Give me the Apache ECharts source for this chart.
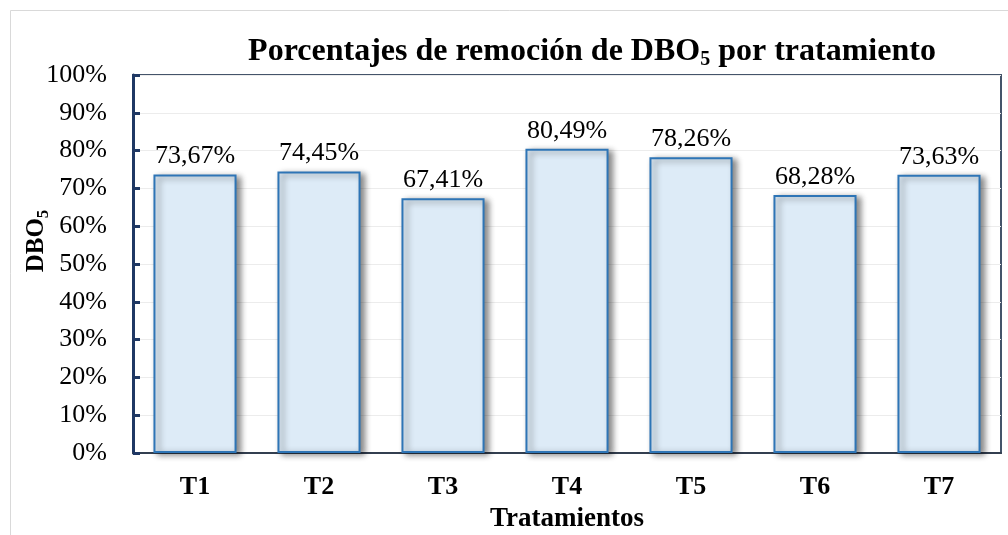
<!DOCTYPE html>
<html>
<head>
<meta charset="utf-8">
<script src="https://cdn.jsdelivr.net/npm/echarts@6/dist/echarts.min.js"></script>
<style>
  html, body { margin: 0; padding: 0; background: #fff; }
  #chart { width: 1008px; height: 535px; }
</style>
</head>
<body>
<div id="chart"></div>
<script>
const categories = ['T1', 'T2', 'T3', 'T4', 'T5', 'T6', 'T7']
const removal = [73.67, 74.45, 67.41, 80.49, 78.26, 68.28, 73.63]
const yTicks = [0, 10, 20, 30, 40, 50, 60, 70, 80, 90, 100]

const serif = '"Liberation Serif", "DejaVu Serif", serif'

const chart = echarts.init(document.getElementById('chart'))

const option = {
  animation: false,
  backgroundColor: '#fff',
  graphic: [
    {
      type: 'rect',
      shape: { x: 10.5, y: 10.5, width: 1010, height: 540 },
      style: { fill: 'none', stroke: '#d9d9d9', lineWidth: 1 },
      silent: true
    }
  ],
  title: {
    text: '{a|Porcentajes de remoción de DBO}{s|5}{a| por tratamiento}',
    left: 587,
    top: 29,
    textAlign: 'center',
    textStyle: {
      rich: {
        a: { fontFamily: serif, fontSize: 32, fontWeight: 'bold', color: '#000' },
        s: { fontFamily: serif, fontSize: 20, fontWeight: 'bold', color: '#000', padding: [16, 0, 0, 0] }
      }
    }
  },
  grid: {
    left: 133,
    right: 7,
    top: 75,
    bottom: 82,
    outerBoundsMode: 'none',
    show: true,
    borderColor: '#44546a',
    borderWidth: 2
  },
  xAxis: {
    type: 'category',
    data: categories,
    name: 'Tratamientos',
    nameLocation: 'middle',
    nameGap: 53,
    nameTextStyle: { fontFamily: serif, fontSize: 27, fontWeight: 'bold', color: '#000' },
    axisLine: { lineStyle: { color: '#333f50', width: 2 } },
    axisTick: { show: false },
    axisLabel: { fontFamily: serif, fontSize: 26, fontWeight: 'bold', color: '#000', margin: 21 }
  },
  yAxis: {
    type: 'value',
    min: yTicks[0],
    max: yTicks[yTicks.length - 1],
    interval: 10,
    name: '{a|DBO}{s|5}',
    nameLocation: 'middle',
    nameRotate: 90,
    nameGap: 81,
    nameMoveOverlap: false,
    nameTextStyle: {
      padding: [0, 0, 0, 46],
      rich: {
        a: { fontFamily: serif, fontSize: 25, fontWeight: 'bold', color: '#000' },
        s: { fontFamily: serif, fontSize: 17, fontWeight: 'bold', color: '#000', padding: [13, 0, 0, 0] }
      }
    },
    axisLine: { show: true, lineStyle: { color: '#1f3864', width: 3 } },
    axisTick: { show: true, inside: true, length: 7, lineStyle: { color: '#1f3864', width: 3 } },
    splitLine: { lineStyle: { color: '#ececec', width: 1 } },
    axisLabel: {
      fontFamily: serif,
      fontSize: 26,
      color: '#000',
      margin: 26,
      formatter: v => v + '%'
    }
  },
  series: [
    {
      type: 'bar',
      data: removal,
      barWidth: '67%',
      itemStyle: {
        color: '#ddebf7',
        borderColor: '#2e75b6',
        borderWidth: 2,
        shadowColor: 'rgba(0,0,0,0.45)',
        shadowBlur: 6,
        shadowOffsetX: 4,
        shadowOffsetY: 2
      },
      label: {
        show: true,
        position: 'top',
        distance: 5,
        fontFamily: serif,
        fontSize: 26,
        color: '#000',
        formatter: p => p.value.toFixed(2).replace('.', ',') + '%'
      }
    }
  ]
}

chart.setOption(option)
</script>
</body>
</html>
